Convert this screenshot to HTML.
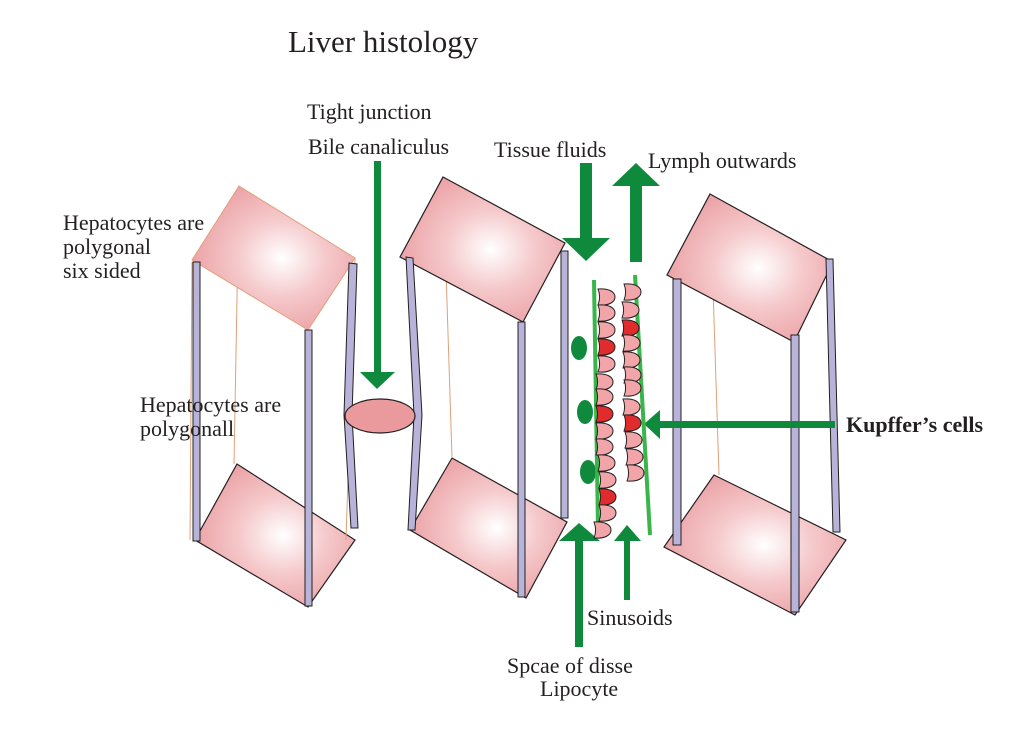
<!DOCTYPE html>
<html><head><meta charset="utf-8"><style>
body{margin:0;background:#fff;}
svg{display:block;}
text{font-family:"Liberation Serif","Times New Roman",serif;fill:#231f20;}
</style></head><body>
<svg width="1024" height="742" viewBox="0 0 1024 742" xmlns="http://www.w3.org/2000/svg">
<defs>
<radialGradient id="g" cx="0.55" cy="0.5" r="0.6">
<stop offset="0" stop-color="#ffffff"/>
<stop offset="0.45" stop-color="#f5c9cb"/>
<stop offset="1" stop-color="#ea9da1"/>
</radialGradient>
<path id="c" d="M0,0 c11,-1 17,3 17,8 c0,5 -6,9 -17,8 c2,-5 2,-11 0,-16 z"/>
</defs>
<rect width="1024" height="742" fill="#fff"/>
<text x="288" y="52" font-size="31">Liver  histology</text>
<text x="307" y="119" font-size="22">Tight junction</text>
<text x="308" y="154" font-size="22">Bile canaliculus</text>
<text x="494" y="157" font-size="22">Tissue fluids</text>
<text x="648" y="168" font-size="22">Lymph outwards</text>
<text x="63" y="230" font-size="22">Hepatocytes are</text>
<text x="63" y="254" font-size="22">polygonal</text>
<text x="63" y="278" font-size="22">six sided</text>
<text x="587" y="625" font-size="22">Sinusoids</text>
<text x="507" y="673" font-size="22">Spcae of disse</text>
<text x="540" y="696" font-size="22">Lipocyte</text>
<text x="846" y="432" font-size="22" font-weight="bold">Kupffer’s cells</text>

<!-- left block -->
<polygon points="237,464 355,540 308,607 195,540" fill="url(#g)" stroke="#231f20" stroke-width="1.2"/>
<line x1="239" y1="186" x2="234" y2="464" stroke="#e0a07a" stroke-width="1"/>
<line x1="192" y1="262" x2="190" y2="540" stroke="#e0a07a" stroke-width="1"/>
<line x1="355" y1="258" x2="346" y2="540" stroke="#e0a07a" stroke-width="1"/>
<polygon points="239,186 355,258 308,330 192,260" fill="url(#g)" stroke="#e0a07a" stroke-width="1"/>
<rect x="193" y="262" width="7" height="279" fill="#b8b3d8" stroke="#231f20" stroke-width="1"/>
<rect x="305" y="330" width="7" height="276" fill="#b8b3d8" stroke="#231f20" stroke-width="1"/>
<polygon points="349,263 357,264 352,415 358,528 351,528 344,415" fill="#b8b3d8" stroke="#231f20" stroke-width="1"/>

<!-- middle block -->
<polygon points="452,458 567,522 526,598 410,530" fill="url(#g)" stroke="#231f20" stroke-width="1.2"/>
<line x1="443" y1="177" x2="452" y2="458" stroke="#e0a07a" stroke-width="1"/>
<polygon points="443,177 565,243 523,322 400,257" fill="url(#g)" stroke="#231f20" stroke-width="1.2"/>
<polygon points="406,257 413,258 422,415 415,530 408,530 414,415" fill="#b8b3d8" stroke="#231f20" stroke-width="1"/>
<rect x="518" y="322" width="7" height="275" fill="#b8b3d8" stroke="#231f20" stroke-width="1"/>
<rect x="561" y="251" width="7" height="267" fill="#b8b3d8" stroke="#231f20" stroke-width="1"/>
<ellipse cx="380" cy="416" rx="35" ry="17" fill="#ea9a9c" stroke="#231f20" stroke-width="1.2"/>

<!-- right block -->
<polygon points="714,475 846,540 795,615 664,547" fill="url(#g)" stroke="#231f20" stroke-width="1.2"/>
<line x1="710" y1="194" x2="719" y2="475" stroke="#e0a07a" stroke-width="1"/>
<polygon points="710,194 833,262 794,342 667,275" fill="url(#g)" stroke="#231f20" stroke-width="1.2"/>
<rect x="673" y="279" width="8" height="266" fill="#b8b3d8" stroke="#231f20" stroke-width="1"/>
<rect x="791" y="335" width="8" height="277" fill="#b8b3d8" stroke="#231f20" stroke-width="1"/>
<polygon points="826,259 833,259 840,532 833,532" fill="#b8b3d8" stroke="#231f20" stroke-width="1"/>

<!-- green arrows -->
<g fill="#0f8a3c">
<rect x="374" y="161" width="7" height="212"/>
<polygon points="360,372 395,372 377,389"/>
<rect x="580" y="163" width="12" height="76"/>
<polygon points="562,238 610,238 586,261"/>
<rect x="630" y="185" width="12" height="77"/>
<polygon points="612,186 660,186 636,163"/>
<rect x="575" y="540" width="8" height="107"/>
<polygon points="559,541 600,541 579,523"/>
<rect x="624" y="540" width="6" height="60"/>
<polygon points="614,541 641,541 627,525"/>
<rect x="660" y="421" width="175" height="7"/>
<polygon points="660,410 660,439 644,424"/>
<ellipse cx="579" cy="348" rx="8" ry="12"/>
<ellipse cx="585" cy="412" rx="8" ry="12"/>
<ellipse cx="588" cy="472" rx="8" ry="12"/>
</g>
<line x1="594" y1="280" x2="598" y2="528" stroke="#39b54a" stroke-width="4"/>
<line x1="635" y1="275" x2="650" y2="535" stroke="#39b54a" stroke-width="4"/>

<!-- cells -->
<g stroke="#231f20" stroke-width="1" fill="#f2a5a8">
<use href="#c" x="598" y="289"/>
<use href="#c" x="598" y="305"/>
<use href="#c" x="598" y="322"/>
<use href="#c" x="598" y="339" fill="#e02c2c"/>
<use href="#c" x="598" y="356"/>
<use href="#c" x="596" y="374"/>
<use href="#c" x="596" y="389"/>
<use href="#c" x="596" y="406" fill="#e02c2c"/>
<use href="#c" x="596" y="423"/>
<use href="#c" x="596" y="439"/>
<use href="#c" x="598" y="455"/>
<use href="#c" x="599" y="472"/>
<use href="#c" x="599" y="489" fill="#e02c2c"/>
<use href="#c" x="599" y="505"/>
<use href="#c" x="594" y="522"/>
<use href="#c" x="624" y="284"/>
<use href="#c" x="622" y="302"/>
<use href="#c" x="622" y="320" fill="#e02c2c"/>
<use href="#c" x="623" y="335"/>
<use href="#c" x="623" y="352"/>
<use href="#c" x="624" y="367"/>
<use href="#c" x="624" y="380"/>
<use href="#c" x="623" y="399"/>
<use href="#c" x="624" y="415" fill="#e02c2c"/>
<use href="#c" x="625" y="432"/>
<use href="#c" x="626" y="449"/>
<use href="#c" x="627" y="465"/>
</g>

<text x="140" y="412" font-size="22">Hepatocytes are</text>
<text x="140" y="436" font-size="22">polygonall</text>
</svg>
</body></html>
